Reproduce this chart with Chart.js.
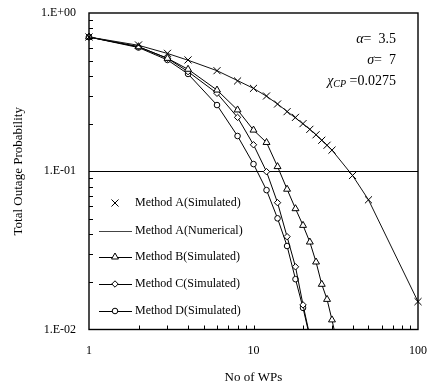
<!DOCTYPE html>
<html>
<head>
<meta charset="utf-8">
<script src="https://cdn.jsdelivr.net/npm/chart.js@4.4.0/dist/chart.umd.min.js"></script>
<style>
  html, body { margin: 0; padding: 0; background: #fff; }
  #wrap { width: 433px; height: 387px; position: relative; }
</style>
</head>
<body>
<div id="wrap"><canvas id="outage"></canvas></div>
<script>
// number of WPs for each curve
const wpsA = [1, 2, 3, 4, 6, 8, 10, 12, 14, 16, 18, 20, 22, 24, 26, 28, 30, 40, 50, 100];
const wpsB = [1, 2, 3, 4, 6, 8, 10, 12, 14, 16, 18, 20, 22, 24, 26, 28, 30, 32];
const wpsCD = [1, 2, 3, 4, 6, 8, 10, 12, 14, 16, 18, 20, 22];

// total outage probability
const methodASim = [0.705, 0.628, 0.556, 0.505, 0.432, 0.372, 0.334, 0.299, 0.266, 0.238, 0.219, 0.200, 0.184, 0.170, 0.157, 0.146, 0.136, 0.094, 0.066, 0.015];
const methodANum = [0.705, 0.625, 0.555, 0.503, 0.432, 0.374, 0.334, 0.298, 0.266, 0.239, 0.217, 0.199, 0.184, 0.170, 0.157, 0.146, 0.136, 0.094, 0.066, 0.015];
const methodB = [0.705, 0.612, 0.517, 0.441, 0.326, 0.244, 0.182, 0.152, 0.107, 0.077, 0.058, 0.0455, 0.0357, 0.0267, 0.0193, 0.0155, 0.0115, 0.0085];
const methodC = [0.705, 0.612, 0.517, 0.426, 0.311, 0.219, 0.147, 0.0994, 0.0633, 0.0386, 0.0249, 0.0143, 0.0091];
const methodD = [0.705, 0.605, 0.505, 0.412, 0.262, 0.167, 0.111, 0.076, 0.0504, 0.0337, 0.0208, 0.0137, 0.0089];

const xTickValues = [1, 10, 100];
const yTickValues = [0.01, 0.1, 1];
const yTickLabels = ['1.E-02', '1.E-01', '1.E+00'];

const serif = "'Liberation Serif', 'Times New Roman', serif";

function pts(xs, ys) {
    return xs.map((x, i) => ({ x: x, y: ys[i] }));
}

// 1..9 per decade, so the minor tick marks land in the right spots
function decadeTicks(from, to) {
    const out = [];
    for (let d = from; d < to; d *= 10) {
        for (let m = 1; m < 10; m++) out.push({ value: +(m * d).toPrecision(3) });
    }
    out.push({ value: to });
    return out;
}

const clipArea = { left: 8, top: 8, right: 8, bottom: 0 };

const datasets = [
    { label: 'Method A(Simulated)', data: pts(wpsA, methodASim), showLine: false,
      pointStyle: 'crossRot', pointRadius: 5, pointBorderWidth: 1, borderColor: '#000', clip: clipArea },
    { label: 'Method A(Numerical)', data: pts(wpsA, methodANum), pointRadius: 0,
      borderColor: '#111', borderWidth: 1, clip: clipArea },
    { label: 'Method B(Simulated)', data: pts(wpsB, methodB), pointStyle: 'triangle', pointRadius: 4,
      pointBackgroundColor: '#fff', borderColor: '#000', borderWidth: 1, clip: clipArea },
    { label: 'Method C(Simulated)', data: pts(wpsCD, methodC), pointStyle: 'rectRot', pointRadius: 3.2,
      pointBackgroundColor: '#fff', borderColor: '#000', borderWidth: 1, clip: clipArea },
    { label: 'Method D(Simulated)', data: pts(wpsCD, methodD), pointStyle: 'circle', pointRadius: 2.8,
      pointBackgroundColor: '#fff', borderColor: '#000', borderWidth: 1, clip: clipArea }
];

// frame, inward tick marks, legend and parameter text
const decorations = {
    id: 'decorations',
    afterDraw(chart) {
        const ctx = chart.ctx;
        const a = chart.chartArea;
        const xs = chart.scales.x, ys = chart.scales.y;
        ctx.save();
        ctx.strokeStyle = '#000';
        ctx.lineWidth = 1;
        ctx.beginPath();
        xs.ticks.forEach(t => {
            const px = Math.round(xs.getPixelForValue(t.value)) + 0.5;
            if (px <= a.left + 1 || px >= a.right - 1) return;
            ctx.moveTo(px, a.bottom); ctx.lineTo(px, a.bottom - 4);
        });
        ys.ticks.forEach(t => {
            const py = Math.round(ys.getPixelForValue(t.value)) + 0.5;
            if (py <= a.top + 1 || py >= a.bottom - 1) return;
            ctx.moveTo(a.left, py); ctx.lineTo(a.left + 4, py);
        });
        ctx.stroke();
        ctx.lineWidth = 1.4;
        ctx.strokeRect(a.left, a.top, a.right - a.left, a.bottom - a.top);

        // legend
        const rows = [203, 231, 257, 284, 311];
        const mx = 115;
        ctx.font = '12px ' + serif;
        ctx.fillStyle = '#000';
        ctx.textBaseline = 'middle';
        datasets.forEach((ds, i) => {
            const y = rows[i];
            if (ds.showLine !== false) {
                ctx.lineWidth = 1;
                ctx.strokeStyle = i === 1 ? '#444' : '#000';
                ctx.beginPath();
                ctx.moveTo(99, y + 0.5); ctx.lineTo(132, y + 0.5);
                ctx.stroke();
            }
            if (ds.pointRadius > 0) {
                ctx.strokeStyle = '#000';
                ctx.fillStyle = '#fff';
                ctx.lineWidth = 1;
                Chart.helpers.drawPoint(ctx, { pointStyle: ds.pointStyle, radius: ds.pointRadius, borderWidth: 1, rotation: 0 }, mx, y);
            }
            ctx.fillStyle = '#000';
            ctx.textAlign = 'left';
            ctx.fillText(ds.label, 135, y);
        });

        // parameter text, right aligned
        const rich = (parts, right, y) => {
            let w = 0;
            parts.forEach(p => { ctx.font = p.f; w += ctx.measureText(p.t).width; });
            let x = right - w;
            parts.forEach(p => {
                ctx.font = p.f;
                ctx.fillText(p.t, x, y + (p.dy || 0));
                x += ctx.measureText(p.t).width;
            });
        };
        const it = 'italic 14px ' + serif, up = '14px ' + serif, sub = 'italic 10px ' + serif;
        ctx.textAlign = 'left';
        ctx.textBaseline = 'alphabetic';
        rich([{ t: '\u03b1', f: it }, { t: '=  3.5', f: up }], 396, 43);
        rich([{ t: '\u03c3', f: it }, { t: '=  7', f: up }], 396, 64);
        rich([{ t: '\u03c7', f: it }, { t: 'CP', f: sub, dy: 2 }, { t: ' =0.0275', f: up }], 396, 85);
        ctx.restore();
    }
};

new Chart(document.getElementById('outage'), {
    type: 'line',
    data: { datasets: datasets },
    options: {
        responsive: true,
        maintainAspectRatio: false,
        animation: false,
        layout: { padding: { left: 0, right: 15, top: 13, bottom: 0 } },
        plugins: { legend: { display: false }, tooltip: { enabled: false } },
        scales: {
            x: {
                type: 'logarithmic', min: 1, max: 100,
                afterBuildTicks: s => { s.ticks = decadeTicks(1, 100); },
                afterFit: s => { s.height = 57.5; s.paddingLeft = 0; s.paddingRight = 0; },
                grid: { display: false, drawTicks: false },
                border: { display: false },
                ticks: {
                    autoSkip: false, maxRotation: 0, padding: 14, color: '#000',
                    font: { family: serif, size: 12 },
                    callback: v => xTickValues.includes(v) ? String(v) : ''
                },
                title: { display: true, text: 'No of WPs', color: '#000',
                         font: { family: serif, size: 13 }, padding: { top: 0, bottom: 2 } }
            },
            y: {
                type: 'logarithmic', min: 0.01, max: 1,
                afterBuildTicks: s => { s.ticks = decadeTicks(0.01, 1); },
                afterFit: s => { s.width = 89; s.paddingTop = 0; s.paddingBottom = 0; },
                grid: {
                    drawTicks: false,
                    color: c => (c.tick && c.tick.value === 0.1) ? '#000' : 'rgba(0,0,0,0)'
                },
                border: { display: false },
                ticks: {
                    autoSkip: false, padding: 13, color: '#000',
                    font: { family: serif, size: 12 },
                    callback: v => { const i = yTickValues.indexOf(v); return i >= 0 ? yTickLabels[i] : ''; }
                },
                title: { display: true, text: 'Total Outage Probability', color: '#000',
                         font: { family: serif, size: 13 }, padding: { top: 11, bottom: 0 } }
            }
        }
    },
    plugins: [decorations]
});
</script>
</body>
</html>
